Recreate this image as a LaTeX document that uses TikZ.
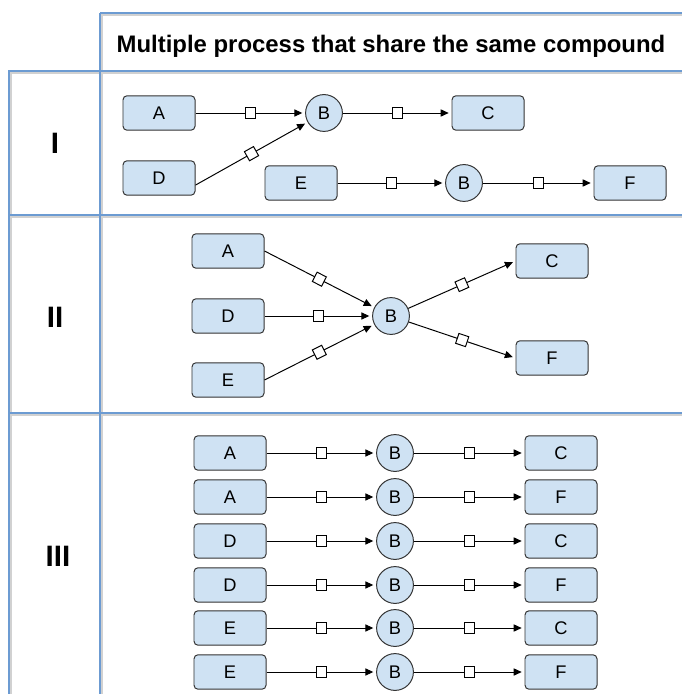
\documentclass[tikz,border=0pt]{standalone}
\usepackage{fontspec}
\setmainfont{Liberation Sans}
\usepackage{xcolor}
\usetikzlibrary{positioning}
\usetikzlibrary{arrows.meta, shapes}
\definecolor{gridblue}{HTML}{6C9BD2}
\definecolor{boxblue}{HTML}{CFE2F3}
\definecolor{boxline}{HTML}{333333}
\tikzstyle{frame} = [gridblue, line width=0.05cm]
\tikzstyle{shade} = [black!18, line width=0.05cm]
\tikzstyle{box} = [rectangle, rounded corners=0.1cm, minimum width=1.8cm, minimum height=0.86cm, draw=boxline, fill=boxblue, line width=0.7pt, font=\fontsize{13}{15}\selectfont]
\tikzstyle{cpd} = [circle, minimum size=0.92cm, inner sep=0pt, draw=boxline, fill=boxblue, line width=0.7pt, font=\fontsize{13}{15}\selectfont]
\tikzstyle{sq} = [rectangle, minimum size=0.26cm, inner sep=0pt, draw=black, fill=white, line width=0.7pt, sloped, midway]
\tikzstyle{arrow} = [line width=0.7pt, -{Triangle[length=0.2cm,width=0.18cm]}, shorten >=2pt]
\tikzstyle{rowlab} = [font=\fontsize{21}{25}\bfseries]
\begin{document}
\begin{tikzpicture}[x=0.025cm,y=-0.025cm]
      \useasboundingbox (0,0) rectangle (682,694);
      %%%%%%%%%%%%%%%%%%%%%%%%%%%%%%%%%%%%%%%
      % table frame
      \draw[shade] (101,15) -- (682,15);
      \draw[shade] (10,73) -- (682,73);
      \draw[shade] (10,217) -- (682,217);
      \draw[shade] (10,415) -- (682,415);
      \draw[shade] (11,73) -- (11,694);
      \draw[shade] (102,15) -- (102,694);
      \draw[frame] (100,13) -- (682,13);
      \draw[frame] (8,71) -- (682,71);
      \draw[frame] (8,215) -- (682,215);
      \draw[frame] (8,413) -- (682,413);
      \draw[frame] (9,71) -- (9,694);
      \draw[frame] (100,13) -- (100,694);
      \node[font=\fontsize{17}{20}\bfseries] (head) at (391,46) {Multiple process that share the same compound};
      \node[rowlab] (lab1) at (55,143) {I};
      \node[rowlab] (lab2) at (55,317) {II};
      \node[rowlab] (lab3) at (58,556) {III};
      %%%%%%%%%%%%%%%%%%%%%%%%%%%%%%%%%%%%%%%
      % I
      \draw (159,113) node (a1) [box] {A};
      \draw (324,113) node (b1) [cpd] {B};
      \draw (488,113) node (c1) [box] {C};
      \draw (159,178) node (d1) [box] {D};
      \draw (301,183) node (e1) [box] {E};
      \draw (464,183) node (bb1) [cpd] {B};
      \draw (630,183) node (f1) [box] {F};
      \draw[arrow] (a1) -- node[sq] {} (b1);
      \draw[arrow] (b1) -- node[sq] {} (c1);
      \draw[arrow] (d1.-11) -- node[sq] {} (b1);
      \draw[arrow] (e1) -- node[sq] {} (bb1);
      \draw[arrow] (bb1) -- node[sq] {} (f1);
      %%%%%%%%%%%%%%%%%%%%%%%%%%%%%%%%%%%%%%%
      % II
      \draw (228,251) node (a2) [box] {A};
      \draw (228,316) node (d2) [box] {D};
      \draw (228,380) node (e2) [box] {E};
      \draw (391,316) node (b2) [cpd] {B};
      \draw (552,261) node (c2) [box] {C};
      \draw (552,358) node (f2) [box] {F};
      \draw[arrow] (a2.east) -- node[sq] {} (b2);
      \draw[arrow] (d2) -- node[sq] {} (b2);
      \draw[arrow] (e2.east) -- node[sq] {} (b2);
      \draw[arrow] (b2) -- node[sq] {} (c2.west);
      \draw[arrow] (b2) -- node[sq] {} (f2.west);
      %%%%%%%%%%%%%%%%%%%%%%%%%%%%%%%%%%%%%%%
      % III
      \foreach \y/\src/\dst [count=\i] in {453/A/C, 497/A/F, 541/D/C, 585/D/F, 628/E/C, 672/E/F}{
        \draw (230,\y) node (s\i) [box] {\src};
        \draw (395,\y) node (m\i) [cpd] {B};
        \draw (561,\y) node (t\i) [box] {\dst};
        \draw[arrow] (s\i) -- node[sq] {} (m\i);
        \draw[arrow] (m\i) -- node[sq] {} (t\i);
      }
\end{tikzpicture}
\end{document}
